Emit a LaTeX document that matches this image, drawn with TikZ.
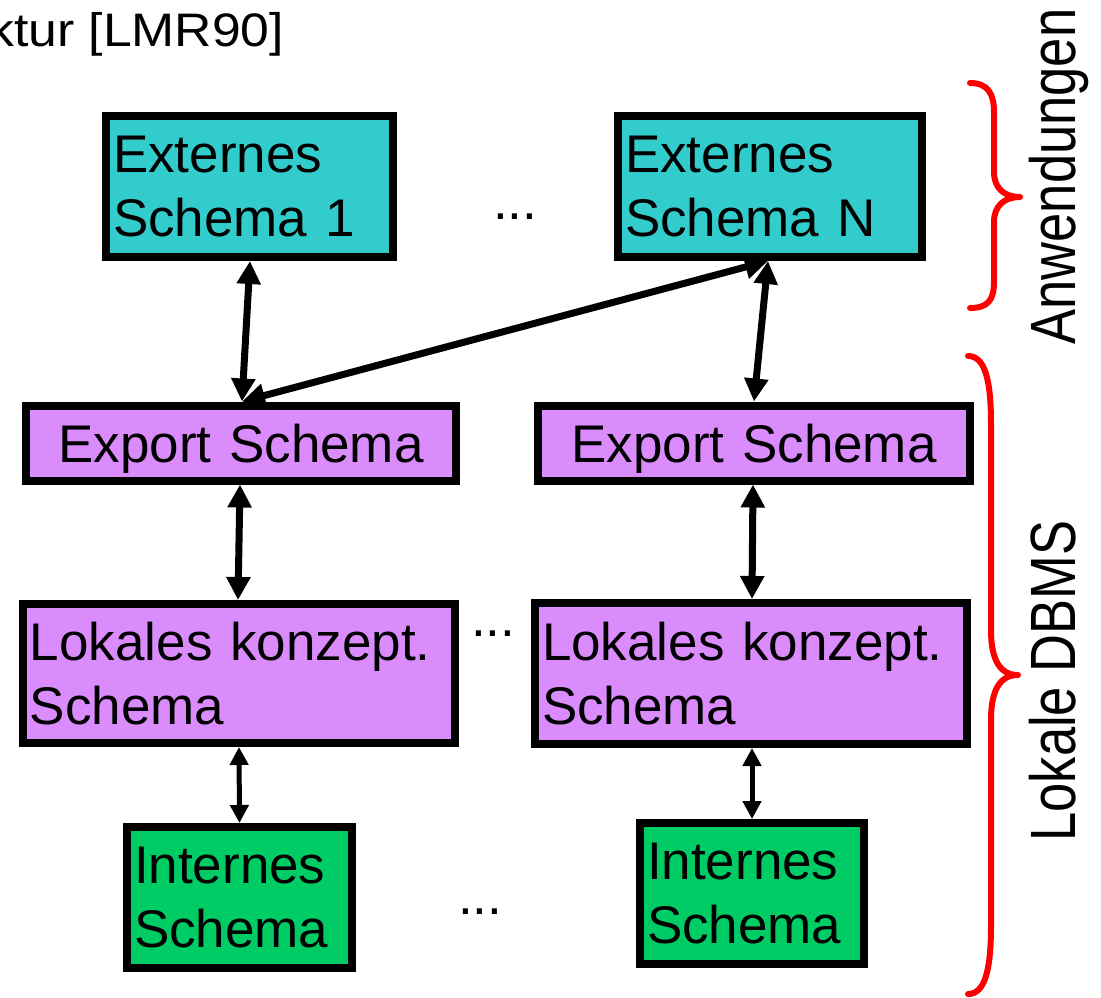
\documentclass[tikz,border=0pt]{standalone}
\usepackage{fontspec}
\setmainfont{Liberation Sans}
\newfontfamily\sidefont[FakeStretch=0.82]{Liberation Sans}
\newfontfamily\headfont[FakeStretch=1.1]{Liberation Sans}
\usetikzlibrary{arrows.meta}
\definecolor{extcol}{HTML}{33CCCC}
\definecolor{lokcol}{HTML}{DA8CFC}
\definecolor{intcol}{HTML}{00CC66}
\tikzset{
  schemabox/.style={draw=black, line width=8pt, inner xsep=7pt, inner ysep=0pt,
    font=\fontsize{53}{63.5}\selectfont, align=left},
  exportbox/.style={schemabox, fill=lokcol, align=center, text depth=0pt,
    minimum height=75pt},
  link/.style={<->, >={Triangle[width=23pt,length=23pt]}, line width=7pt},
  thinlink/.style={<->, >={Triangle[width=18pt,length=18pt]}, line width=5pt},
  brace/.style={draw=red, line width=6pt, line cap=round, line join=round},
  sidelabel/.style={rotate=90, anchor=base, inner sep=0pt,
    font=\sidefont\fontsize{64}{64}\selectfont},
  dots/.style={anchor=base west, inner sep=0pt, font=\fontsize{53}{53}\selectfont},
}
\begin{document}
\begin{tikzpicture}[x=1pt,y=-1pt]
\useasboundingbox (0,0) rectangle (1101,997);

% heading fragment
\node[anchor=base west, inner sep=0pt, font=\headfont\fontsize{47}{47}\selectfont]
  (title) at (-12,46) {ktur [LMR90]};

% external schemas
\node[schemabox, fill=extcol, text width=273pt, minimum height=141pt]
  (ext1) at (249.5,186.5) {Externes\\Schema 1};
\node[schemabox, fill=extcol, text width=290pt, minimum height=141pt]
  (extN) at (770,186.5) {Externes\\Schema N};
\node[dots] (dtop) at (493,219) {...};

% export schemas
\node[exportbox, text width=416pt] (exp1) at (241,443) {Export Schema};
\node[exportbox, text width=418pt] (exp2) at (754,443) {Export Schema};

% local conceptual schemas
\node[schemabox, fill=lokcol, text width=418pt, minimum height=139pt]
  (lok1) at (239,673.5) {Lokales konzept.\\Schema};
\node[schemabox, fill=lokcol, text width=418pt, minimum height=141pt]
  (lok2) at (751,673.5) {Lokales konzept.\\Schema};
\node[dots] (dmid) at (471,636) {...};

% internal schemas
\node[schemabox, fill=intcol, text width=211pt, minimum height=141pt]
  (int1) at (239.5,897.5) {Internes\\Schema};
\node[schemabox, fill=intcol, text width=210pt, minimum height=141pt]
  (int2) at (752,893.5) {Internes\\Schema};
\node[dots] (dbot) at (458,914) {...};

% mappings between the levels
\draw[link] ([xshift=0.5pt]ext1.south) -- ([xshift=1pt]exp1.north);
\draw[link] ([xshift=-2pt]extN.south) -- (exp2.north);
\draw[link] ([xshift=1pt]exp1.north) -- ([xshift=-2pt]extN.south);
\draw[link] ([xshift=-1pt]exp1.south) -- ([xshift=-1pt]lok1.north);
\draw[link] ([xshift=-1pt]exp2.south) -- ([xshift=1pt]lok2.north);
\draw[thinlink] (lok1.south) -- (int1.north);
\draw[thinlink] ([xshift=1pt]lok2.south) -- (int2.north);

% grouping braces
\draw[brace] (970,83) .. controls (988,83) and (994,94) .. (994,112) -- (994,172)
  .. controls (994,188) and (1004,197) .. (1020,197)
  .. controls (1004,197) and (994,206) .. (994,222) -- (994,282)
  .. controls (994,300) and (988,308) .. (970,308);
\draw[brace] (968,356) .. controls (985,356) and (991,380) .. (991,424) -- (991,630)
  .. controls (991,660) and (1000,675) .. (1018,675)
  .. controls (1000,675) and (991,690) .. (991,720) -- (991,925)
  .. controls (991,970) and (985,994) .. (968,994);

\node[sidelabel] (app) at (1075,176.5) {Anwendungen};
\node[sidelabel] (dbms) at (1075,681) {Lokale DBMS};
\end{tikzpicture}
\end{document}
